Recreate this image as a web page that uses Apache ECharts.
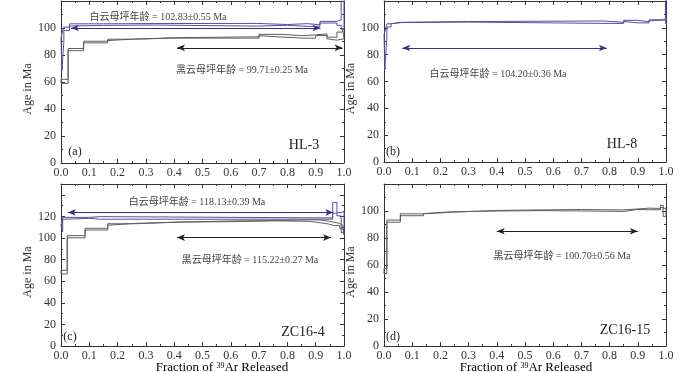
<!DOCTYPE html>
<html>
<head>
<meta charset="utf-8">
<script src="https://cdn.jsdelivr.net/npm/echarts@6/dist/echarts.min.js"></script>
<style>
  html, body { margin: 0; padding: 0; background: #fff; }
  #chart { width: 700px; height: 372px; }
</style>
</head>
<body>
<div id="chart"></div>
<script>
// step ends (cumulative 39Ar fraction), apparent ages and errors (Ma)
const hl3MusEnd = [0.003, 0.01, 0.03, 0.15, 0.33, 0.69, 0.8, 0.87, 0.915, 0.975, 0.99, 1.0];
const hl3MusAge = [80, 92.7, 99.4, 102.3, 102.6, 102.8, 102.0, 102.6, 101.8, 104.3, 104.0, 112];
const hl3MusErr = [12, 3, 1.2, 0.8, 0.7, 0.6, 0.6, 0.6, 0.6, 0.6, 2, 13];
const hl3MusPlateau = [0.035, 0.917, 100];

const hl3BioEnd = [0.025, 0.08, 0.165, 0.26, 0.4, 0.7, 0.78, 0.855, 0.9, 0.94, 0.975, 0.995, 1.0];
const hl3BioAge = [60.5, 84, 89.6, 91.2, 92.3, 93, 94.8, 93.8, 93.7, 95, 92.6, 94, 96];
const hl3BioErr = [1.5, 0.8, 0.6, 0.5, 0.5, 0.5, 0.5, 0.5, 1.2, 0.6, 0.6, 3, 4];
const hl3BioPlateau = [0.41, 0.995, 85.3];

const hl8MusEnd = [0.003, 0.01, 0.025, 0.06, 0.3, 0.78, 0.85, 0.9, 0.94, 0.99, 0.998, 1.0];
const hl8MusAge = [82, 95, 101.8, 103.6, 104.3, 104.7, 103.7, 105.2, 104.1, 105.6, 106.3, 115];
const hl8MusErr = [13, 2.2, 1.2, 0.5, 0.4, 0.4, 0.4, 0.4, 0.4, 0.4, 0.5, 12];
const hl8MusPlateau = [0.065, 0.79, 85];

const zc4MusEnd = [0.006, 0.1, 0.14, 0.96, 0.975, 0.99, 1.0];
const zc4MusAge = [108.6, 118.2, 119, 118, 128, 122, 115];
const zc4MusErr = [2.7, 0.9, 0.8, 0.6, 5, 1.5, 10];
const zc4MusPlateau = [0.024, 0.962, 123.7];

const zc4BioEnd = [0.022, 0.085, 0.165, 0.26, 0.42, 0.6, 0.75, 0.88, 0.92, 0.945, 0.965, 0.985, 0.995, 1.0];
const zc4BioAge = [68.4, 101.2, 108.2, 112.5, 114.1, 115.3, 115.6, 116.4, 116, 114.8, 113.8, 112.5, 110.5, 107];
const zc4BioErr = [1.7, 1, 0.8, 0.7, 0.6, 0.5, 0.5, 0.5, 0.6, 0.8, 0.8, 1, 1.5, 4];
const zc4BioPlateau = [0.41, 0.954, 100.4];

const zc15BioEnd = [0.01, 0.058, 0.14, 0.24, 0.4, 0.55, 0.7, 0.85, 0.9, 0.94, 0.98, 0.99, 1.0];
const zc15BioAge = [55.5, 92.5, 97.2, 98.6, 99.9, 100.4, 100.7, 100.4, 100.6, 101.6, 101.4, 103.4, 99];
const zc15BioErr = [2, 0.8, 0.7, 0.5, 0.5, 0.4, 0.4, 0.4, 0.9, 0.5, 0.5, 0.8, 3];
const zc15BioPlateau = [0.4, 0.9, 85];

const yMax = [120, 120, 150, 120];
const yLabelMax = [100, 100, 120, 100];
const sampleNames = ['HL-3', 'HL-8', 'ZC16-4', 'ZC16-15'];
const panelTags = ['(a)', '(b)', '(c)', '(d)'];

const MUS = '#574ca3', MUS_ARROW = '#3a2f8c';
const BIO = '#5e5e5e', BIO_ARROW = '#222';
const SERIF = '"Liberation Serif", "Times New Roman", serif';
const TXT_FONT = '10px "Liberation Serif", "Noto Sans CJK SC", serif';

const chart = echarts.init(document.getElementById('chart'));

// box outline of the age spectrum: upper edges left->right, lower edges back
function outline(ends, ages, errs) {
  const up = [], lo = [];
  let start = 0;
  ends.forEach((end, i) => {
    up.push([start, ages[i] + errs[i]], [end, ages[i] + errs[i]]);
    lo.push([start, ages[i] - errs[i]], [end, ages[i] - errs[i]]);
    start = end;
  });
  return up.concat(lo.reverse(), [up[0]]);
}

function spectrum(k, ends, ages, errs, plateau, color, arrowColor) {
  return {
    type: 'line',
    xAxisIndex: k,
    yAxisIndex: k,
    data: outline(ends, ages, errs),
    symbol: 'none',
    silent: true,
    lineStyle: { color: color, width: 1 },
    markLine: {
      silent: true,
      symbol: ['arrow', 'arrow'],
      symbolSize: [5, 8],
      label: { show: false },
      lineStyle: { color: arrowColor, type: 'solid', width: 1 },
      data: [[{ coord: [plateau[0], plateau[2]] }, { coord: [plateau[1], plateau[2]] }]]
    }
  };
}

const grids = [
  { left: 61, top: 1, width: 283, height: 162 },
  { left: 384, top: 1, width: 282, height: 161 },
  { left: 61, top: 184, width: 283, height: 162 },
  { left: 384, top: 184, width: 282, height: 162 }
];

const xAxes = [], yAxes = [];
[0, 1].forEach(side => {
  grids.forEach((g, k) => {
    xAxes.push({
      type: 'value', gridIndex: k, min: 0, max: 1, interval: 0.1,
      position: side ? 'top' : 'bottom',
      axisLine: { onZero: false, lineStyle: { color: '#333', width: 1 } },
      axisTick: { inside: true, length: 4, lineStyle: { color: '#333' } },
      minorTick: { show: true, splitNumber: 2, length: 2, lineStyle: { color: '#333' } },
      splitLine: { show: false },
      axisLabel: {
        show: !side, margin: 4, color: '#333', fontSize: 12, fontFamily: SERIF,
        formatter: v => v.toFixed(1)
      }
    });
    yAxes.push({
      type: 'value', gridIndex: k, min: 0, max: yMax[k], interval: 20,
      position: side ? 'right' : 'left',
      name: side ? '' : 'Age in Ma',
      nameLocation: 'middle', nameGap: 16, nameRotate: 90,
      nameTextStyle: { color: '#333', fontSize: 12, fontFamily: SERIF, padding: [0, 0, 0, -14] },
      axisLine: { onZero: false, lineStyle: { color: '#333', width: 1 } },
      axisTick: { inside: true, length: 4, lineStyle: { color: '#333' } },
      minorTick: { show: true, splitNumber: 2, length: 2, lineStyle: { color: '#333' } },
      splitLine: { show: false },
      axisLabel: {
        show: !side, margin: 5, color: '#333', fontSize: 12, fontFamily: SERIF,
        formatter: v => (v > yLabelMax[k] ? '' : String(v))
      }
    });
  });
});

const annText = (x, y, text) => ({
  type: 'text', x: x, y: y, silent: true,
  style: { text: text, font: TXT_FONT, fill: '#444', textAlign: 'center', textVerticalAlign: 'middle' }
});

const tagPos = [[75, 152], [393, 152], [70, 337], [393, 337]];
const namePos = [[304, 145], [622, 144], [303, 332], [625, 330]];

const graphics = [
  annText(158, 17, '白云母坪年龄 = 102.83±0.55 Ma'),
  annText(242, 70, '黑云母坪年龄 = 99.71±0.25 Ma'),
  annText(498, 74, '白云母坪年龄 = 104.20±0.36 Ma'),
  annText(197, 202, '白云母坪年龄 = 118.13±0.39 Ma'),
  annText(250, 260, '黑云母坪年龄 = 115.22±0.27 Ma'),
  annText(562, 256, '黑云母坪年龄 = 100.70±0.56 Ma')
];
panelTags.forEach((t, k) => {
  graphics.push({
    type: 'text', x: tagPos[k][0], y: tagPos[k][1], silent: true,
    style: { text: t, font: '12px ' + SERIF, fill: '#222', textAlign: 'center', textVerticalAlign: 'middle' }
  });
  graphics.push({
    type: 'text', x: namePos[k][0], y: namePos[k][1], silent: true,
    style: { text: sampleNames[k], font: '14px ' + SERIF, fill: '#222', textAlign: 'center', textVerticalAlign: 'middle' }
  });
});
[[222, 368], [526, 368]].forEach(p => {
  graphics.push({
    type: 'text', x: p[0], y: p[1], silent: true,
    style: {
      text: '{a|Fraction of }{s|39}{a|Ar Released}',
      textAlign: 'center', textVerticalAlign: 'middle',
      rich: {
        a: { fontSize: 13, fontFamily: SERIF, color: '#333' },
        s: { fontSize: 8, fontFamily: SERIF, color: '#333', verticalAlign: 'top', padding: [0, 0, 5, 0] }
      }
    }
  });
});

const option = {
  animation: false,
  grid: grids,
  xAxis: xAxes,
  yAxis: yAxes,
  graphic: graphics,
  series: [
    spectrum(0, hl3MusEnd, hl3MusAge, hl3MusErr, hl3MusPlateau, MUS, MUS_ARROW),
    spectrum(0, hl3BioEnd, hl3BioAge, hl3BioErr, hl3BioPlateau, BIO, BIO_ARROW),
    spectrum(1, hl8MusEnd, hl8MusAge, hl8MusErr, hl8MusPlateau, MUS, MUS_ARROW),
    spectrum(2, zc4MusEnd, zc4MusAge, zc4MusErr, zc4MusPlateau, MUS, MUS_ARROW),
    spectrum(2, zc4BioEnd, zc4BioAge, zc4BioErr, zc4BioPlateau, BIO, BIO_ARROW),
    spectrum(3, zc15BioEnd, zc15BioAge, zc15BioErr, zc15BioPlateau, BIO, BIO_ARROW)
  ]
};

chart.setOption(option);
window.addEventListener('resize', chart.resize);
</script>
</body>
</html>
